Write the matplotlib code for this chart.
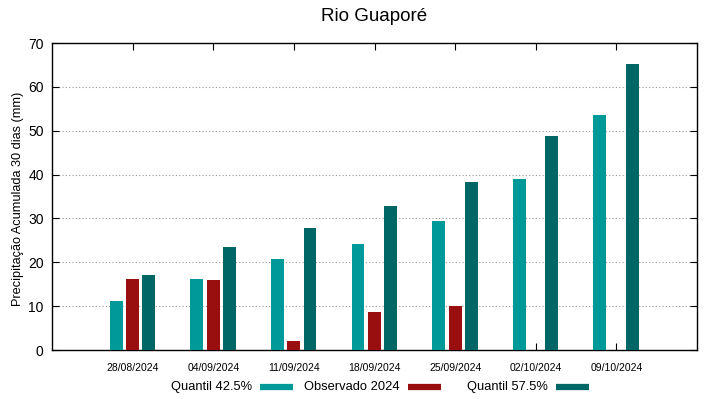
import numpy as np
import matplotlib.pyplot as plt
from matplotlib.lines import Line2D
import matplotlib.transforms as mtransforms

plt.rcParams['font.family'] = ['Liberation Sans', 'DejaVu Sans']

datas = ['28/08/2024', '04/09/2024', '11/09/2024', '18/09/2024',
         '25/09/2024', '02/10/2024', '09/10/2024']
q425 = [11.2, 16.3, 20.8, 24.1, 29.3, 39.0, 53.5]
obs2024 = [16.1, 15.9, 2.1, 8.7, 10.1, np.nan, np.nan]
q575 = [17.2, 23.5, 27.9, 32.8, 38.4, 48.8, 65.1]

nomes = ['Quantil 42.5%', 'Observado 2024', 'Quantil 57.5%']
cores = ['#009999', '#990e0e', '#006666']

W, H = 719, 399
fig = plt.figure(figsize=(W / 100, H / 100), dpi=100)
ax = fig.add_axes([52 / W, 1 - 350 / H, 645 / W, 307 / H])

x = np.arange(1, len(datas) + 1)
w = 0.16
ax.bar(x - 0.205, q425, w, color=cores[0], zorder=3)
ax.bar(x, obs2024, w, color=cores[1], zorder=3)
ax.bar(x + 0.2, q575, w, color=cores[2], zorder=3)

ax.set_xlim(0, 8)
ax.set_ylim(0, 70)
ax.set_xticks(x)
ax.set_xticklabels(datas, fontsize=7.5)
# rotulos levemente deslocados para a direita, como no original
off = mtransforms.ScaledTranslation(6 / 100, 0, fig.dpi_scale_trans)
for lbl in ax.get_xticklabels():
    lbl.set_transform(lbl.get_transform() + off)
ax.set_yticks(np.arange(0, 71, 10))
ax.tick_params(axis='y', labelsize=10, direction='in', length=5, right=True, pad=6)
ax.tick_params(axis='x', direction='in', length=5, top=True, pad=9.5)
ax.yaxis.grid(True, linestyle=(0, (1, 2)), color='#999999', linewidth=0.8)
ax.set_axisbelow(True)
for s in ax.spines.values():
    s.set_linewidth(1.0)

ax.set_ylabel('Precipitação Acumulada 30 dias (mm)', fontsize=9.2, va='center')
ax.yaxis.set_label_coords((17.5 - 52) / 645, 0.492)
fig.text(374 / W, 1 - 21 / H, 'Rio Guaporé', fontsize=13.5,
         ha='center', va='baseline')

# legenda no estilo gnuplot: texto alinhado a direita, amostra depois
y_leg = 1 - 387 / H
for nome, cor, fim in zip(nomes, cores, [293, 441, 589]):
    fig.add_artist(Line2D([(fim - 33) / W, fim / W], [y_leg, y_leg],
                          color=cor, lw=4.5, solid_capstyle='butt'))
    fig.text((fim - 41) / W, y_leg, nome, fontsize=9.3, ha='right', va='center')

fig.savefig('out.png', dpi=100)
